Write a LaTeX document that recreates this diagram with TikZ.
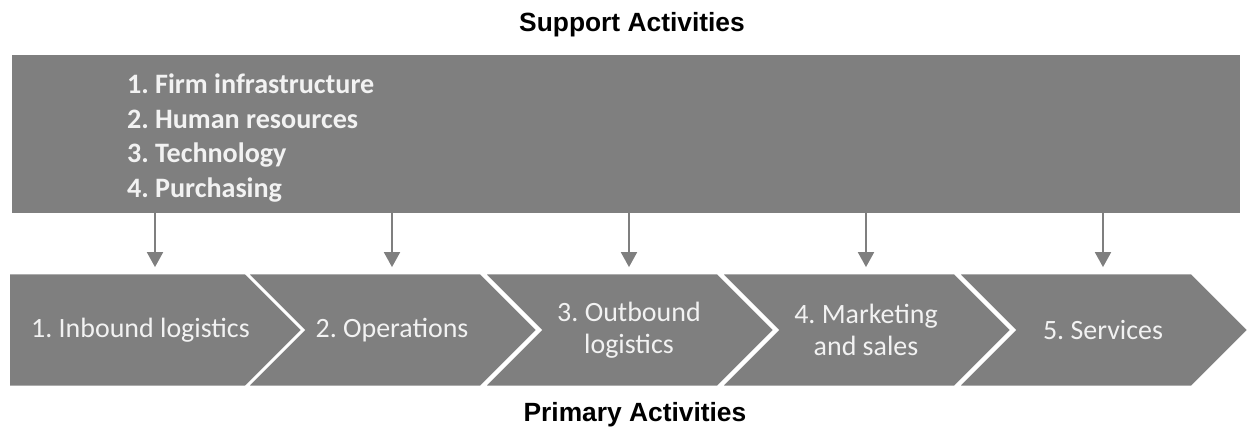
\documentclass[tikz,border=0pt]{standalone}
\usepackage{fontspec}
\setmainfont{Carlito}
\newfontfamily\headfont{Liberation Sans}
\usetikzlibrary{shapes.symbols,arrows.meta}
\definecolor{chain}{HTML}{7F7F7F}
\definecolor{chaintext}{HTML}{F2F2F2}
\frenchspacing

\begin{document}
\begin{tikzpicture}[
  stage/.style={signal, signal to=east, signal from=west, signal pointer angle=90, fill=chain, draw=white, line width=1.7pt, minimum width=5.84cm, minimum height=2.28cm, inner xsep=2pt, text=chaintext, align=center, font=\fontsize{15.9}{18.2}\selectfont},
  first/.style={signal from=nowhere, minimum width=6.42cm},
  heading/.style={font=\headfont\bfseries\fontsize{15}{18}\selectfont},
  feed/.style={-{Triangle[width=9pt,length=8.5pt]}, chain, line width=1.3pt, shorten >=2.5pt},
  node distance=4.74cm
]
\useasboundingbox (0,0) rectangle (24.96,8.54);

\node[rectangle, fill=chain, minimum width=24.56cm, minimum height=3.16cm, inner sep=0pt] (support) at (12.52,5.86) {};
\node[anchor=west, inner sep=0pt, align=left, text=chaintext, font=\bfseries\fontsize{16}{19.7}\selectfont] (activities) at ([xshift=2.30cm,yshift=-0.08cm]support.west) {1. Firm infrastructure\\2. Human resources\\3. Technology\\4. Purchasing};
\node[heading, above of=support, node distance=2.18cm, xshift=0.12cm] (suptitle) {Support Activities};

\node[stage, first] (inbound) at (2.81,1.94) {1. Inbound logistics};
\node[stage, right of=inbound, node distance=5.03cm] (operations) {2. Operations};
\node[stage, right of=operations] (outbound) {3. Outbound\\logistics};
\node[stage, right of=outbound] (marketing) {4. Marketing\\and sales};
\node[stage, right of=marketing] (services) {5. Services};

\node[heading, below of=outbound, node distance=1.70cm, xshift=0.12cm] (primtitle) {Primary Activities};

\foreach \s in {operations,outbound,marketing,services}
  \draw[feed] (\s.north |- support.south) -- (\s.north);
\draw[feed] ([xshift=0.29cm]inbound.north |- support.south) -- ([xshift=0.29cm]inbound.north);
\end{tikzpicture}
\end{document}
